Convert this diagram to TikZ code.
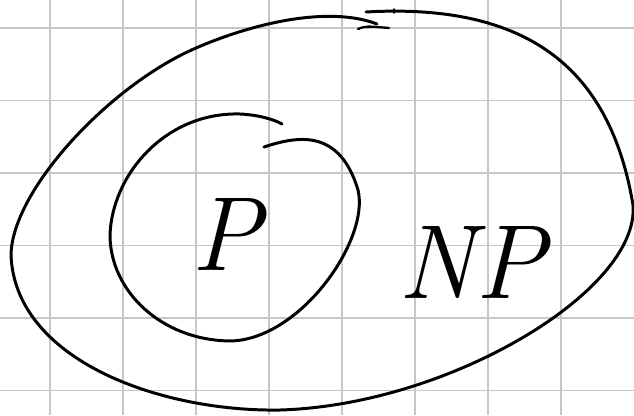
\documentclass[tikz,border=0pt]{standalone}
\begin{document}
\begin{tikzpicture}[x=0.02cm, y=-0.02cm,
  gridline/.style={line width=0.9pt, black!22},
  pen/.style={line width=1.7pt, black, line cap=round, line join=round},
  letter/.style={font=\fontsize{60}{62}\selectfont\itshape, inner sep=0pt}]

\useasboundingbox[fill=white] (0,0) rectangle (634,415);

% Raster
\foreach \gx in {0,...,7}
  \draw[gridline] ({50+73*\gx},0) -- ({50+73*\gx},415);
\foreach \gy in {0,...,5}
  \draw[gridline] (0,{28+72.5*\gy}) -- (634,{28+72.5*\gy});

% NP (aussen)
\draw[pen] (366,12) .. controls (540,2) and (612,80) .. (633,205)
  .. controls (640,290) and (450,405) .. (280,410)
  .. controls (160,412) and (15,360) .. (11,255)
  .. controls (12,190) and (110,85) .. (196,48)
  .. controls (256,22) and (330,6) .. (377,24);
\draw[pen, line width=1.3pt] (358,29) .. controls (366,26) .. (389,28);
\draw[pen, line width=1.1pt] (394,9) -- (394,13);

% P (innen)
\draw[pen] (264,147) .. controls (300,135) and (340,130) .. (358,190)
  .. controls (370,240) and (300,340) .. (230,341)
  .. controls (160,340) and (110,290) .. (110,235)
  .. controls (112,175) and (165,112) .. (240,114)
  .. controls (260,115) and (275,120) .. (282,124);

% Beschriftung
\node[letter] (p) at (226,234) {P};
\node[letter] (np) at (472,262) {NP};

\end{tikzpicture}
\end{document}
